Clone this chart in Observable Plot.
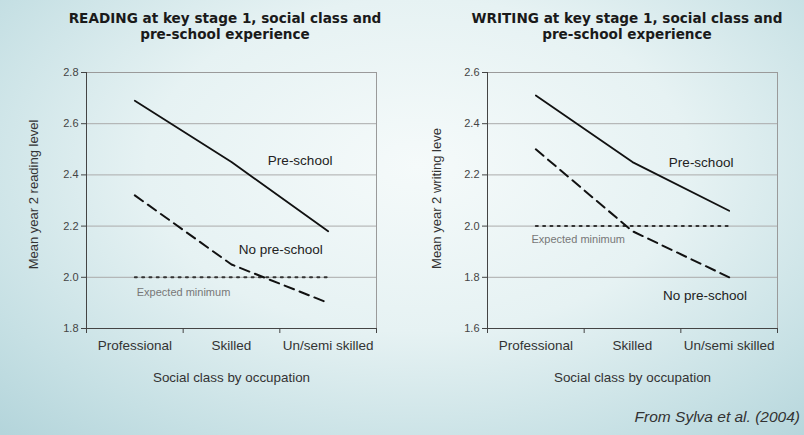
<!DOCTYPE html>
<html>
<head>
<meta charset="utf-8">
<script src="https://cdn.jsdelivr.net/npm/d3@7"></script>
<script src="https://cdn.jsdelivr.net/npm/@observablehq/plot@0.6"></script>
<style>
  html, body { margin: 0; padding: 0; }
  #root {
    position: relative; width: 804px; height: 435px; overflow: hidden;
    background: radial-gradient(ellipse 75% 85% at 52% 38%, #f5fafa 0%, #e6f2f3 45%, #c6e0e4 80%, #b4d5db 100%);
    font-family: "Liberation Sans", Arial, sans-serif;
  }
  .title {
    position: absolute; width: 400px; text-align: center;
    font-family: "DejaVu Sans", Verdana, sans-serif; font-weight: bold;
    font-size: 13.6px; line-height: 16px; color: #1a1a1a;
  }
  .chart { position: absolute; top: 50px; }
  #caption {
    position: absolute; right: 4px; top: 408px;
    font-family: "Liberation Sans", Arial, sans-serif; font-style: italic;
    font-size: 15.5px; color: #333;
  }
</style>
</head>
<body>
<div id="root">
  <div class="title" style="left:25px; top:10px;">READING at key stage 1, social class and<br>pre-school experience</div>
  <div class="title" style="left:427px; top:10px;">WRITING at key stage 1, social class and<br>pre-school experience</div>
  <div class="chart" id="left" style="left:0px;"></div>
  <div class="chart" id="right" style="left:400px;"></div>
  <div id="caption">From Sylva et al. (2004)</div>
</div>
<script>
// ---- data ----
const categories = ["Professional", "Skilled", "Un/semi skilled"];
const readingPreschool = [2.69, 2.45, 2.18];
const readingNoPreschool = [2.32, 2.05, 1.90];
const writingPreschool = [2.51, 2.25, 2.06];
const writingNoPreschool = [2.30, 1.98, 1.80];
const expectedMinimum = [2.0, 2.0, 2.0];
const readingTicks = [1.8, 2.0, 2.2, 2.4, 2.6, 2.8];
const writingTicks = [1.6, 1.8, 2.0, 2.2, 2.4, 2.6];
const xLabel = "Social class by occupation";
const readingYLabel = "Mean year 2 reading level";
const writingYLabel = "Mean year 2 writing leve";
// annotation labels: [text, category position, value]
const readingNotes = [["Pre-school", 2.21, 2.455], ["No pre-school", 2.01, 2.106]];
const readingExpectedNote = ["Expected minimum", 0.52, 1.941];
const writingNotes = [["Pre-school", 2.21, 2.247], ["No pre-school", 2.25, 1.729]];
const writingExpectedNote = ["Expected minimum", 0.455, 1.949];

const toRows = vals => vals.map((v, i) => ({x: i + 0.5, y: v}));

function makeChart({pre, nopre, ticks, yLabel, notes, expNote, marginLeft, marginRight, yLabelDx, yLabelDy}) {
  const lo = ticks[0], hi = ticks[ticks.length - 1];
  return Plot.plot({
    width: 400,
    height: 360,
    marginTop: 22,
    marginBottom: 82,
    marginLeft,
    marginRight,
    style: {background: "transparent", fontFamily: "'Liberation Sans', Arial, sans-serif", color: "#333", overflow: "visible"},
    x: {domain: [0, categories.length]},
    y: {domain: [lo, hi]},
    marks: [
      Plot.gridY(ticks, {stroke: "#ababab", strokeOpacity: 1, strokeWidth: 1}),
      Plot.frame({stroke: "#9a9a9a"}),
      Plot.ruleX([0], {stroke: "#444"}),
      Plot.ruleY([lo], {stroke: "#444"}),
      Plot.axisY(ticks, {tickSize: 5, tickPadding: 3, fontSize: 11, tickFormat: d => d.toFixed(1), stroke: "#444", fill: "#444", label: null}),
      Plot.axisX(d3.range(categories.length + 1), {tickSize: 5, tickFormat: () => "", stroke: "#444", label: null}),
      Plot.axisX(categories.map((c, i) => i + 0.5), {tickSize: 0, tickPadding: 12, fontSize: 13.5, fill: "#333", tickFormat: d => categories[Math.floor(d)], label: null}),
      Plot.text([xLabel], {frameAnchor: "bottom", dy: 49, text: d => d, fontSize: 13.4, fill: "#333", lineAnchor: "middle"}),
      Plot.text([yLabel], {frameAnchor: "left", textAnchor: "middle", dx: yLabelDx, dy: yLabelDy, rotate: -90, text: d => d, fontSize: 13, fill: "#333", lineAnchor: "middle"}),
      Plot.line(toRows(expectedMinimum), {x: "x", y: "y", stroke: "#333", strokeWidth: 2, strokeDasharray: "2,5.3"}),
      Plot.line(toRows(nopre), {x: "x", y: "y", stroke: "#111", strokeWidth: 2, strokeDasharray: "10,6"}),
      Plot.line(toRows(pre), {x: "x", y: "y", stroke: "#111", strokeWidth: 1.8}),
      Plot.text(notes, {x: d => d[1], y: d => d[2], text: d => d[0], fontSize: 13.5, fill: "#222"}),
      Plot.text([expNote], {x: d => d[1], y: d => d[2], text: d => d[0], fontSize: 11, fill: "#777", textAnchor: "start", letterSpacing: "0.3px"})
    ]
  });
}

document.getElementById("left").append(makeChart({
  pre: readingPreschool, nopre: readingNoPreschool, ticks: readingTicks,
  yLabel: readingYLabel, notes: readingNotes, expNote: readingExpectedNote,
  marginLeft: 86, marginRight: 24, yLabelDx: -53, yLabelDy: -6
}));
document.getElementById("right").append(makeChart({
  pre: writingPreschool, nopre: writingNoPreschool, ticks: writingTicks,
  yLabel: writingYLabel, notes: writingNotes, expNote: writingExpectedNote,
  marginLeft: 87, marginRight: 23, yLabelDx: -51, yLabelDy: -2
}));
</script>
</body>
</html>
